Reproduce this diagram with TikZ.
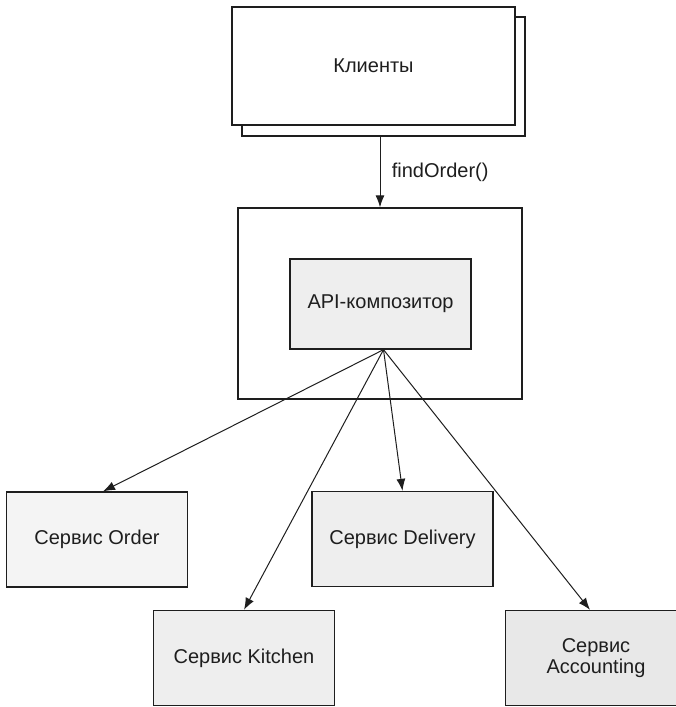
\documentclass[tikz,border=0pt]{standalone}
\usepackage{fontspec}
\setmainfont{Liberation Sans}
\usetikzlibrary{positioning,arrows.meta,calc}
\definecolor{ink}     {HTML}{1E1E1E}
\definecolor{boxgray} {HTML}{EEEEEE}
\definecolor{lightbox}{HTML}{F4F4F4}
\definecolor{darkbox} {HTML}{E8E8E8}
\tikzset{
  >={Latex[length=12pt,width=9pt]},
  every node/.style={font=\fontsize{20}{21}\selectfont, text=ink},
  % --- nodes
  mod/.style   = {draw=ink, line width=1.3pt, fill=white, align=center,
                  inner sep=0pt},
  svc/.style   = {mod, fill=boxgray, minimum width=181pt, minimum height=95pt},
  lbl/.style   = {font=\fontsize{20}{22}\selectfont},
  % --- edges
  e/.style     = {->, line width=1pt, draw=ink},
}
\begin{document}
\begin{tikzpicture}[x=1pt,y=-1pt]
  \useasboundingbox (0,0) rectangle (676,707);

  % clients, two stacked sheets
  \node[mod, minimum width=283pt, minimum height=119pt] (clientsback) at (383.5,76.5) {};
  \node[mod, minimum width=283pt, minimum height=118pt] (clients) at (373.5,66) {Клиенты};

  % composer
  \node[mod, minimum width=284pt, minimum height=191pt] (outer) at (380,303.5) {};
  \node[mod, fill=boxgray, minimum width=181pt, minimum height=90pt] (api) at (380.5,304) {API-композитор};
  \coordinate (hub) at ([xshift=3pt]api.south);

  % services
  \node[svc, fill=lightbox] (order)    at (97,539.5)  {Сервис Order};
  \node[svc]                (delivery) at (402.5,539) {Сервис Delivery};
  \node[svc]                (kitchen)  at (244,658)   {Сервис Kitchen};
  \node[svc, fill=darkbox]  (acct)     at (596,658)   {Сервис\\Accounting};

  % calls
  \draw[e] (clientsback.south -| outer.north) -- node[lbl, right=8pt, anchor=west] {findOrder()} (outer.north);
  \draw[e] (hub) -- ([xshift=6pt]order.north);
  \draw[e] (hub) -- (kitchen.north);
  \draw[e] (hub) -- (delivery.north);
  \draw[e] (hub) -- ([xshift=-6pt]acct.north);
\end{tikzpicture}
\end{document}
